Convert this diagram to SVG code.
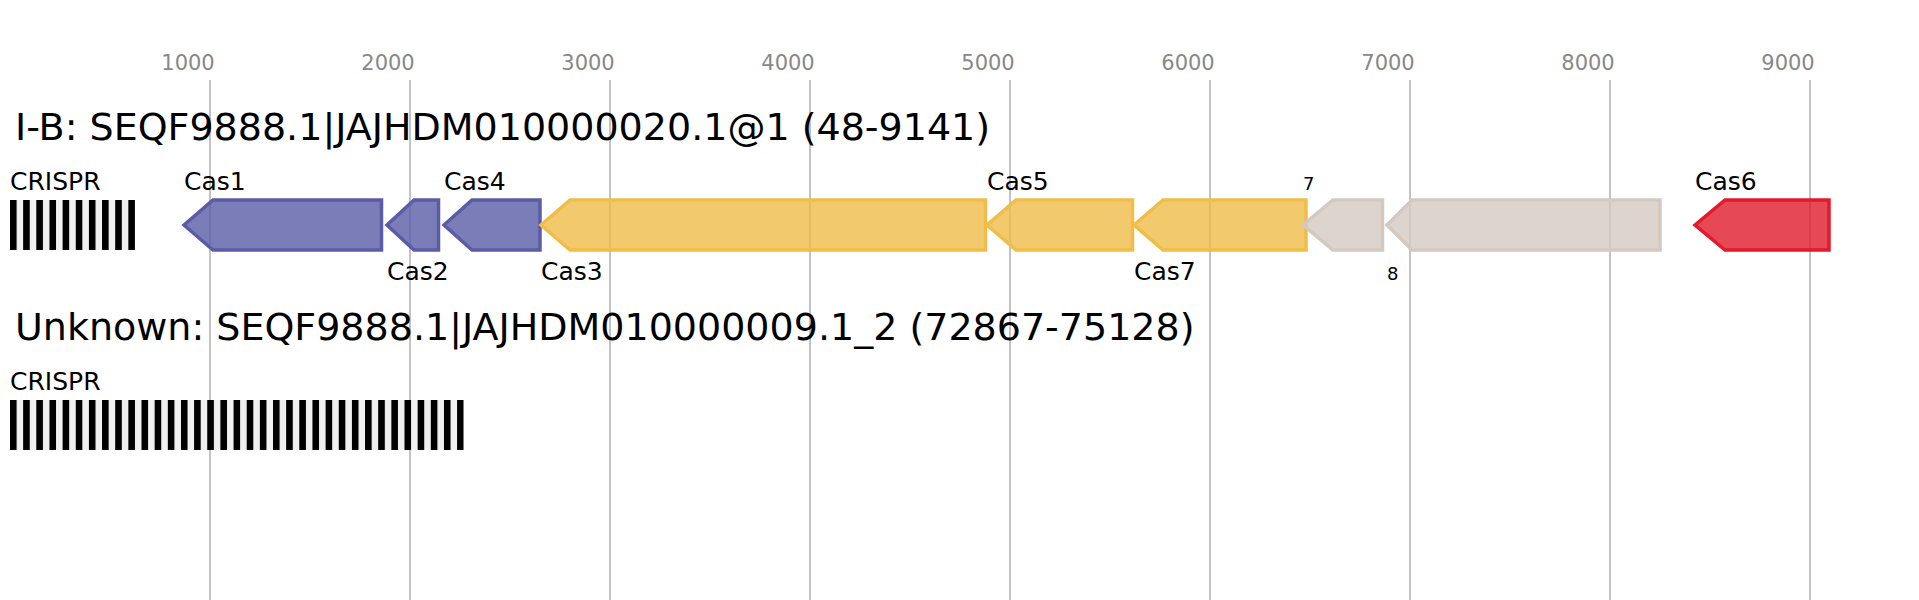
<svg xmlns="http://www.w3.org/2000/svg" width="1919" height="600" viewBox="0 0 1919 600">
<style>
text{font-family:"DejaVu Sans","Liberation Sans",sans-serif}
.grid{stroke:#bdbdbd;stroke-width:1.8}
.tick{font-size:21px;fill:#888888;text-anchor:middle}
.title{font-size:38px;fill:#000}
.lbl{font-size:25px;fill:#000}
.sm{font-size:18px;fill:#000}
.gene{stroke-width:3.5;fill-opacity:0.8}
.blue{fill:#5a5ca6;stroke:#5a5ca6}
.yel{fill:#efbd48;stroke:#efbd48}
.gray{fill:#d4c9c0;stroke:#d4c9c0}
.red{fill:#e11a2c;stroke:#e11a2c}
</style>
<defs>
<pattern id="rep" x="10" y="0" width="13.15" height="50" patternUnits="userSpaceOnUse">
<rect x="0" y="0" width="13.15" height="50" fill="#f0f0f0"/>
<rect x="0" y="0" width="6.6" height="50" fill="#000"/>
</pattern>
</defs>
<rect width="1919" height="600" fill="#ffffff"/>
<g id="axis">
<line class="grid" x1="210" y1="80" x2="210" y2="600"/>
<line class="grid" x1="410" y1="80" x2="410" y2="600"/>
<line class="grid" x1="610" y1="80" x2="610" y2="600"/>
<line class="grid" x1="810" y1="80" x2="810" y2="600"/>
<line class="grid" x1="1010" y1="80" x2="1010" y2="600"/>
<line class="grid" x1="1210" y1="80" x2="1210" y2="600"/>
<line class="grid" x1="1410" y1="80" x2="1410" y2="600"/>
<line class="grid" x1="1610" y1="80" x2="1610" y2="600"/>
<line class="grid" x1="1810" y1="80" x2="1810" y2="600"/>
<text class="tick" x="188" y="70">1000</text>
<text class="tick" x="388" y="70">2000</text>
<text class="tick" x="588" y="70">3000</text>
<text class="tick" x="788" y="70">4000</text>
<text class="tick" x="988" y="70">5000</text>
<text class="tick" x="1188" y="70">6000</text>
<text class="tick" x="1388" y="70">7000</text>
<text class="tick" x="1588" y="70">8000</text>
<text class="tick" x="1788" y="70">9000</text>
</g>
<g id="track1">
<text class="title" x="15" y="140">I-B: SEQF9888.1|JAJHDM010000020.1@1 (48-9141)</text>
<g id="crispr1">
<text class="lbl" x="10" y="190">CRISPR</text>
<rect x="10" y="200" width="124.95" height="50" fill="url(#rep)"/>
</g>
<g id="cas1"><polygon class="gene blue" points="184,225 213,200 381.5,200 381.5,250 213,250"/><text class="lbl" x="184" y="190">Cas1</text></g>
<g id="cas2"><polygon class="gene blue" points="387,225 414,200 438.5,200 438.5,250 414,250"/><text class="lbl" x="387" y="280">Cas2</text></g>
<g id="cas4"><polygon class="gene blue" points="444,225 472,200 540,200 540,250 472,250"/><text class="lbl" x="444" y="190">Cas4</text></g>
<g id="cas3"><polygon class="gene yel" points="541,225 570,200 985.5,200 985.5,250 570,250"/><text class="lbl" x="541" y="280">Cas3</text></g>
<g id="cas5"><polygon class="gene yel" points="987,225 1016,200 1132.5,200 1132.5,250 1016,250"/><text class="lbl" x="987" y="190">Cas5</text></g>
<g id="cas7"><polygon class="gene yel" points="1134,225 1163,200 1306,200 1306,250 1163,250"/><text class="lbl" x="1134" y="280">Cas7</text></g>
<g id="gene7"><polygon class="gene gray" points="1303,225 1333,200 1382.5,200 1382.5,250 1333,250"/><text class="sm" x="1303" y="190">7</text></g>
<g id="gene8"><polygon class="gene gray" points="1387,225 1412,200 1660,200 1660,250 1412,250"/><text class="sm" x="1387" y="280">8</text></g>
<g id="cas6"><polygon class="gene red" points="1695,225 1725,200 1829,200 1829,250 1725,250"/><text class="lbl" x="1695" y="190">Cas6</text></g>
</g>
<g id="track2">
<text class="title" x="15" y="340">Unknown: SEQF9888.1|JAJHDM010000009.1_2 (72867-75128)</text>
<g id="crispr2">
<text class="lbl" x="10" y="390">CRISPR</text>
<rect x="10" y="400" width="453.7" height="50" fill="url(#rep)"/>
</g>
</g>
</svg>
